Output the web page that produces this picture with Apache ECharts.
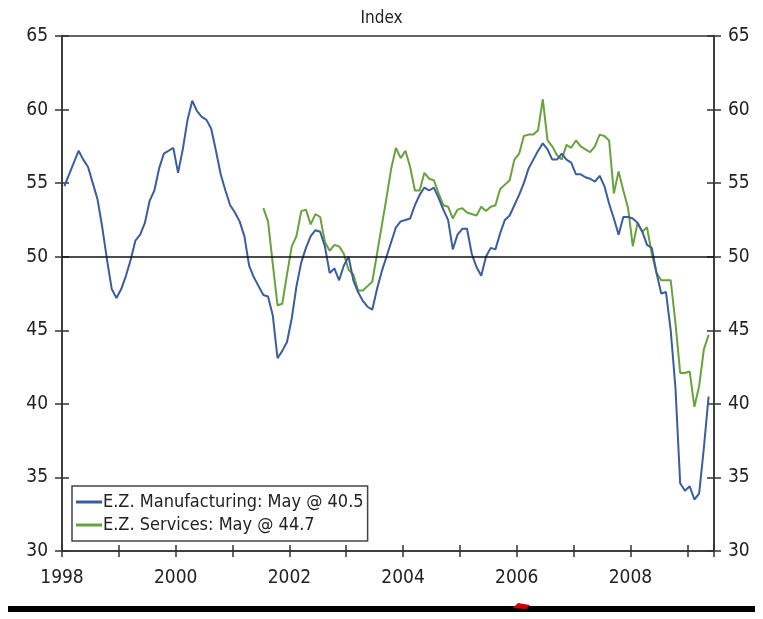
<!DOCTYPE html>
<html>
    <head>
        <title>echarts</title>
        <meta http-equiv="content-type" content="text/html; charset=utf-8">
        <style type="text/css">
            html,
            body {
                height: 100%;
                width: 100%;
                background: #fff;
                margin: 0;
            }
            #echarts {
                width: 763px;
                height: 619px;
            }
        </style>
    </head>
    <body>
        <div id="echarts"></div>
        <script src="https://cdn.jsdelivr.net/npm/echarts@6/dist/echarts.min.js"></script>
        <script>
            // monthly PMI, manufacturing from Jan 1998, services from Jul 2001, both to May 2009
            let mfgStart = [1998, 1];
            let mfg = [
                54.8, 55.6, 56.4, 57.2, 56.6, 56.1, 55.0, 53.9, 52.0, 49.8, 47.8, 47.2,
                47.8, 48.7, 49.8, 51.1, 51.5, 52.3, 53.8, 54.5, 56.0, 57.0, 57.2, 57.4,
                55.7, 57.3, 59.3, 60.6, 59.9, 59.5, 59.3, 58.7, 57.2, 55.6, 54.5, 53.5,
                53.0, 52.4, 51.4, 49.4, 48.6, 48.0, 47.4, 47.3, 46.0, 43.1, 43.6, 44.2,
                45.8, 48.0, 49.6, 50.6, 51.4, 51.8, 51.7, 50.7, 48.9, 49.2, 48.4, 49.4,
                50.0, 48.4, 47.6, 47.0, 46.6, 46.4, 47.8, 49.0, 50.0, 51.0, 52.0, 52.4,
                52.5, 52.6, 53.5, 54.2, 54.7, 54.5, 54.7, 54.0, 53.2, 52.5, 50.5, 51.5,
                51.9, 51.9, 50.2, 49.3, 48.7, 50.0, 50.6, 50.5, 51.6, 52.5, 52.8, 53.5,
                54.2, 55.0, 56.0, 56.6, 57.2, 57.7, 57.3, 56.6, 56.6, 57.0, 56.6, 56.4,
                55.6, 55.6, 55.4, 55.3, 55.1, 55.5, 54.8, 53.6, 52.6, 51.5, 52.7, 52.7,
                52.6, 52.3, 51.7, 50.8, 50.6, 48.9, 47.5, 47.6, 45.0, 41.1, 34.6, 34.1,
                34.4, 33.5, 33.9, 37.0, 40.5
            ];
            let svcStart = [2001, 7];
            let svc = [
                53.3, 52.4, 49.5, 46.7, 46.8, 48.8,
                50.7, 51.4, 53.1, 53.2, 52.2, 52.9, 52.7, 51.0, 50.4, 50.8, 50.7, 50.2,
                49.1, 48.8, 47.7, 47.7, 48.0, 48.3, 50.2, 52.1, 54.0, 56.0, 57.4, 56.7,
                57.2, 56.1, 54.5, 54.5, 55.7, 55.3, 55.2, 54.3, 53.5, 53.4, 52.6, 53.2,
                53.3, 53.0, 52.9, 52.8, 53.4, 53.1, 53.4, 53.5, 54.6, 54.9, 55.2, 56.6,
                57.0, 58.2, 58.3, 58.3, 58.6, 60.7, 57.9, 57.5, 56.9, 56.6, 57.6, 57.4,
                57.9, 57.5, 57.3, 57.1, 57.5, 58.3, 58.2, 57.9, 54.3, 55.8, 54.5, 53.3,
                50.7, 52.3, 51.7, 52.0, 50.2, 48.9, 48.4, 48.4, 48.4, 45.5, 42.1, 42.1,
                42.2, 39.8, 41.2, 43.7, 44.7
            ];
            let seriesNames = ['E.Z. Manufacturing: May @ 40.5', 'E.Z. Services: May @ 44.7'];
            let yTicks = [30, 35, 40, 45, 50, 55, 60, 65];

            // month -> decimal year (mid month)
            function toPairs(start, vals) {
                return vals.map(function (v, i) {
                    let m = start[1] - 1 + i;
                    return [start[0] + (m + 0.5) / 12, v];
                });
            }

            let font = "'Liberation Sans Narrow', 'DejaVu Sans Condensed', sans-serif";
            let yMin = yTicks[0], yMax = yTicks[yTicks.length - 1];

            function xAxis(inside, labels) {
                return {
                    type: 'value', position: 'bottom', min: 1998, max: 2009.47, interval: 1,
                    axisLine: { show: labels, onZero: false, lineStyle: { color: '#333', width: 1.5 } },
                    axisTick: { show: true, inside: inside, length: 6, lineStyle: { color: '#333', width: 1.5 } },
                    splitLine: { show: false },
                    axisLabel: {
                        show: labels, margin: 18, color: '#222', fontFamily: font, fontSize: 19,
                        formatter: function (v) {
                            let r = Math.round(v);
                            return (Math.abs(v - r) < 1e-6 && r % 2 === 0) ? String(r) : '';
                        }
                    }
                };
            }
            function yAxis(pos, inside, labels) {
                return {
                    type: 'value', position: pos, min: yMin, max: yMax, interval: 5,
                    axisLine: { show: labels, lineStyle: { color: '#333', width: 1.5 } },
                    axisTick: { show: true, inside: inside, length: 7, lineStyle: { color: '#333', width: 1.5 } },
                    splitLine: { show: false },
                    axisLabel: { show: labels, margin: 14, color: '#222', fontFamily: font, fontSize: 19 }
                };
            }

            let myChart = echarts.init(document.getElementById('echarts'));
            let option = {
                animation: false,
                title: {
                    text: 'Index', left: 'center', top: 5,
                    textStyle: { fontFamily: font, fontSize: 17, fontWeight: 'normal', color: '#222' }
                },
                grid: {
                    left: 62, right: 49, top: 36, bottom: 68,
                    show: true, borderColor: '#333', borderWidth: 1.5
                },
                legend: {
                    orient: 'vertical', left: 72, top: 486,
                    data: seriesNames,
                    icon: 'rect', itemWidth: 26, itemHeight: 3, itemGap: 5,
                    padding: [7, 4, 7, 4],
                    borderColor: '#444', borderWidth: 1.5,
                    textStyle: { fontFamily: font, fontSize: 18, color: '#222', padding: [0, 0, 0, -4] }
                },
                xAxis: [xAxis(true, true), xAxis(false, false)],
                yAxis: [yAxis('left', false, true), yAxis('left', true, false),
                        yAxis('right', false, true), yAxis('right', true, false)],
                graphic: [
                    { type: 'rect', shape: { x: 8, y: 606, width: 747, height: 6 }, style: { fill: '#000' } },
                    { type: 'polygon', shape: { points: [[513, 608], [518, 603], [530, 605], [526, 609]] }, style: { fill: '#c00' } }
                ],
                series: [
                    {
                        name: seriesNames[0], type: 'line', showSymbol: false,
                        data: toPairs(mfgStart, mfg),
                        lineStyle: { color: '#3c5c9c', width: 2 }, itemStyle: { color: '#3c5c9c' },
                        markLine: {
                            silent: true, symbol: 'none', label: { show: false },
                            lineStyle: { color: '#111', width: 1.5, type: 'solid' },
                            data: [{ yAxis: 50 }]
                        },
                        z: 3
                    },
                    {
                        name: seriesNames[1], type: 'line', showSymbol: false,
                        data: toPairs(svcStart, svc),
                        lineStyle: { color: '#6aa13f', width: 2 }, itemStyle: { color: '#6aa13f' },
                        z: 2
                    }
                ]
            };
            myChart.setOption(option);
        </script>
    </body>
</html>
